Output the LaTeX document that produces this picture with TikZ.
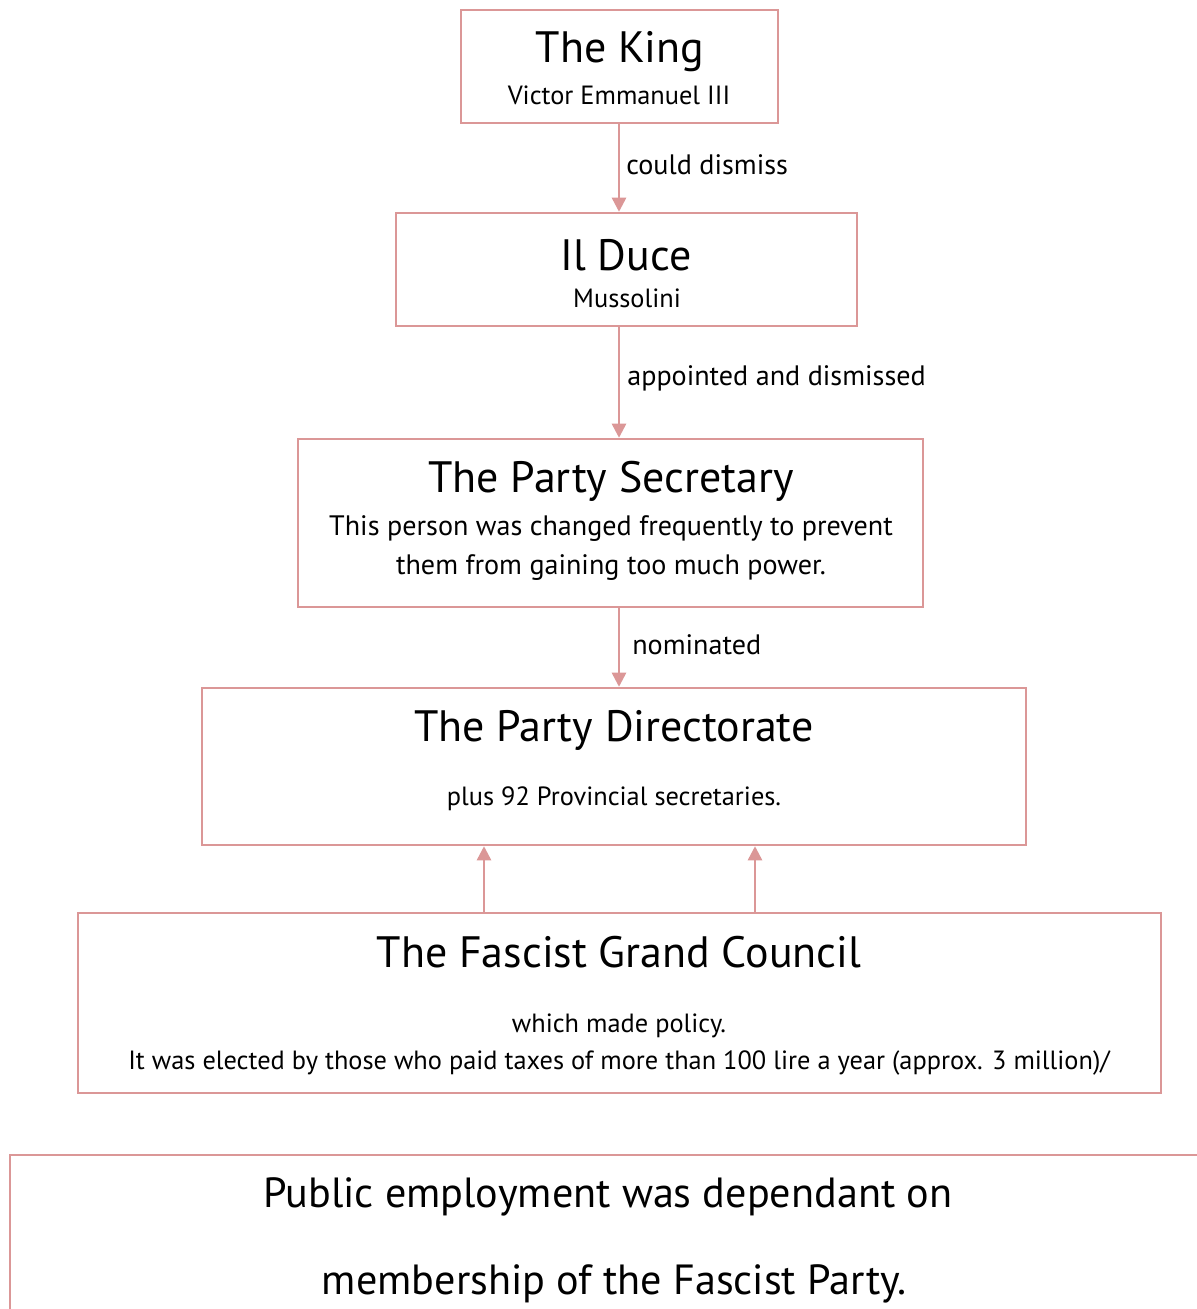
\documentclass[tikz,border=0pt]{standalone}
\usepackage{fontspec}
\setmainfont{PT Sans}
\usetikzlibrary{arrows.meta}

\definecolor{boxrose}{HTML}{DB9797}

\tikzset{
    box/.style={draw=boxrose,line width=1.4pt,inner sep=0pt},
    link/.style={draw=boxrose,line width=1.4pt,-{Triangle[length=8pt,width=8pt]}},
    title/.style={font=\fontsize{25}{28}\selectfont},
    small/.style={font=\fontsize{15}{21}\selectfont},
    label/.style={font=\fontsize{16}{19}\selectfont,anchor=west,inner sep=0pt},
}

\begin{document}
\begin{tikzpicture}
        \useasboundingbox (0,0) rectangle (23.94,-26.18);

        % the boxes of the chain of command
        \node[box,minimum width=6.34cm,minimum height=2.26cm] (king) at (12.39,-1.33) {};
        \node[box,minimum width=9.22cm,minimum height=2.26cm] (duce) at (12.53,-5.39) {};
        \node[box,minimum width=12.5cm,minimum height=3.36cm] (secretary) at (12.21,-10.46) {};
        \node[box,minimum width=16.48cm,minimum height=3.14cm] (directorate) at (12.28,-15.33) {};
        \node[box,minimum width=21.66cm,minimum height=3.6cm] (council) at (12.39,-20.06) {};
        \draw[box] (24.5,-23.1) -| (0.2,-26.6);

        % titles and texts
        \node[title] (kingT) at (12.4,-1.04) {The King};
        \node[small] (kingS) at (12.38,-1.9) {Victor Emmanuel III};
        \node[title] (duceT) at (12.52,-5.1) {Il Duce};
        \node[small] (duceS) at (12.54,-5.96) {Mussolini};
        \node[title] (secT) at (12.22,-9.62) {The Party Secretary};
        \node[small,align=center,font=\fontsize{16}{22.7}\selectfont] (secS) at (12.22,-10.96)
                {This person was changed frequently to prevent\\ them from gaining too much power.};
        \node[title] (dirT) at (12.28,-14.6) {The Party Directorate};
        \node[small] (dirS) at (12.28,-15.98) {plus 92 Provincial secretaries.};
        \node[title] (councilT) at (12.38,-19.04) {The Fascist Grand Council};
        \node[small,align=center] (councilS) at (12.38,-20.89)
                {which made policy.\\ It was elected by those who paid taxes of more than 100 lire a year (approx. 3 million)/};
        \node[title,font=\fontsize{24}{28}\selectfont] (publicA) at (12.16,-23.94) {Public employment was dependant on};
        \node[title,font=\fontsize{24}{28}\selectfont] (publicB) at (12.28,-25.68) {membership of the Fascist Party.};

        % arrows
        \coordinate (stem) at (12.38,0);
        \coordinate (leftup) at (9.68,0);
        \coordinate (rightup) at (15.1,0);
        \draw[link] (king.south -| stem) -- (duce.north -| stem);
        \draw[link] (duce.south -| stem) -- (secretary.north -| stem);
        \draw[link] (secretary.south -| stem) -- (directorate.north -| stem);
        \draw[link] (council.north -| leftup) -- (directorate.south -| leftup);
        \draw[link] (council.north -| rightup) -- (directorate.south -| rightup);

        \node[label] (dismiss) at (12.52,-3.3) {could dismiss};
        \node[label] (appoint) at (12.54,-7.56) {appointed and dismissed};
        \node[label] (nominate) at (12.64,-12.9) {nominated};
\end{tikzpicture}
\end{document}
